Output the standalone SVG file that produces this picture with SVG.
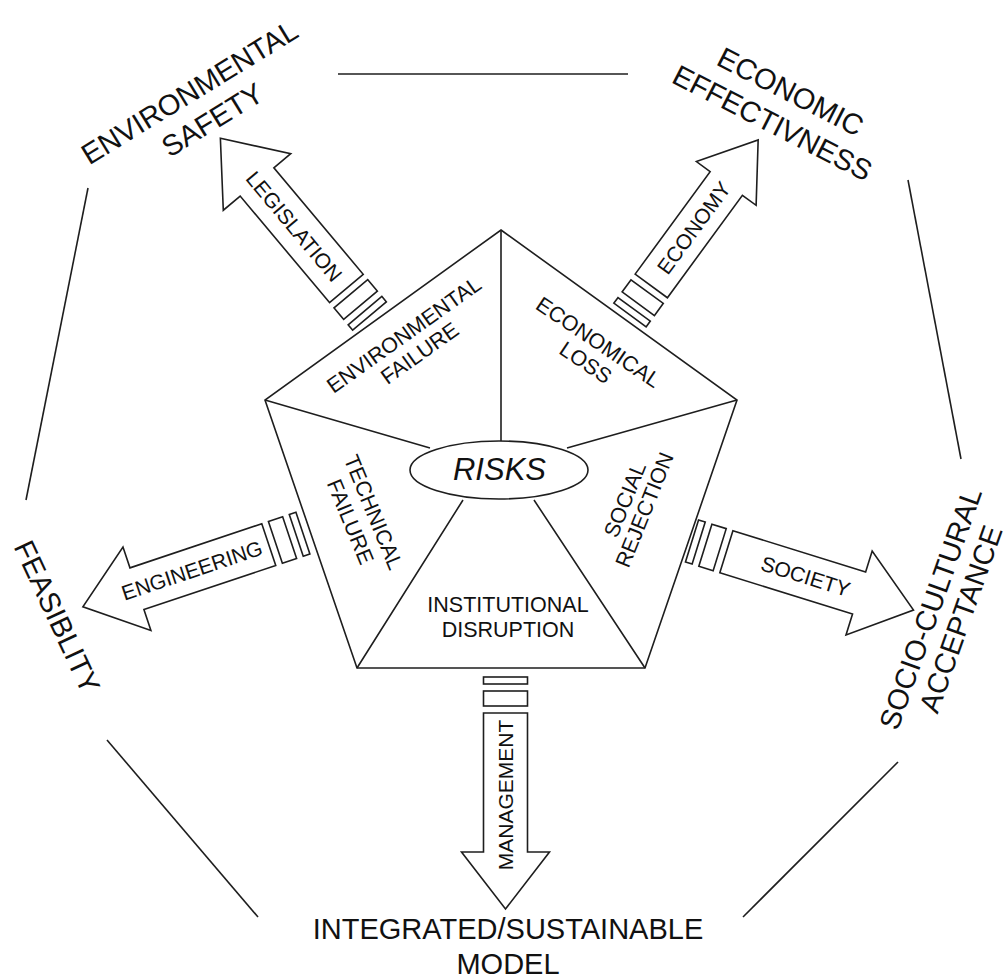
<svg xmlns="http://www.w3.org/2000/svg" width="1007" height="978" viewBox="0 0 1007 978">
<style>
.ln{fill:none;stroke:#1e1e1e;stroke-width:1.6}
.sh{fill:#fff;stroke:#1e1e1e;stroke-width:1.6;stroke-linejoin:miter}
.t{font-family:"Liberation Sans",Arial,sans-serif;fill:#111;text-anchor:middle}
.big{font-size:29px}
.mid{font-size:21.5px}
.lab{font-size:21px}
.risk{font-size:31px;font-style:italic}
</style>
<defs>
<!-- block arrow drawn along +x: two spacer bars, then shaft and head -->
<g id="arrow">
<rect x="0" y="-22" width="7" height="44" class="sh"/>
<rect x="14" y="-22" width="15" height="44" class="sh"/>
<path d="M36,-22 H175 V-44 L232,0 L175,44 V22 H36 Z" class="sh"/>
</g>
<!-- slightly slimmer and shorter variant -->
<g id="arrow-s">
<rect x="0" y="-20" width="7" height="40" class="sh"/>
<rect x="14" y="-20" width="15" height="40" class="sh"/>
<path d="M36,-20 H163 V-37 L217,0 L163,37 V20 H36 Z" class="sh"/>
</g>
</defs>
<rect width="1007" height="978" fill="#fff"/>

<!-- outer frame segments between the five goals -->
<g id="connectors" class="ln">
<path d="M338,74 H628"/>
<path d="M88,188 L26,500"/>
<path d="M107,740 L258,917"/>
<path d="M743,917 L898,762"/>
<path d="M908,180 L961,459"/>
</g>

<!-- central pentagon of risks -->
<g id="risks">
<path class="ln" d="M501,230 L737,400 L645,668 L357,668 L265,400 Z"/>
<path class="ln" d="M501,230 V441 M265,400 L430,448 M737,400 L567,448 M463,500 L357,668 M534,500 L645,668"/>
<ellipse cx="499" cy="470" rx="89" ry="29" class="sh"/>
<text class="t risk" x="499.5" y="480">RISKS</text>
</g>
<g id="env-failure" class="t mid" transform="translate(408.3,340.8) rotate(-35.5)">
<text x="0" y="0">ENVIRONMENTAL</text><text x="2" y="24">FAILURE</text>
</g>
<g id="eco-loss" class="t mid" transform="translate(594.2,348.3) rotate(34)">
<text x="0" y="0">ECONOMICAL</text><text x="1" y="24">LOSS</text>
</g>
<g id="tech-failure" class="t mid" transform="translate(366.7,515) rotate(67.6)">
<text x="0" y="0">TECHNICAL</text><text x="0" y="25">FAILURE</text>
</g>
<g id="soc-rejection" class="t mid" transform="translate(631.7,502.5) rotate(-68)">
<text x="0" y="0">SOCIAL</text><text x="-2" y="22">REJECTION</text>
</g>
<g id="inst-disruption" class="t mid">
<text x="508" y="611.7">INSTITUTIONAL</text><text x="508" y="636.7">DISRUPTION</text>
</g>

<!-- arrows toward the goals -->
<g id="legislation" transform="translate(369.5,316) rotate(230)">
<use href="#arrow"/>
<text class="t lab" transform="translate(117,0) rotate(180)" y="7.5">LEGISLATION</text>
</g>
<g id="economy" transform="translate(630,315) rotate(-53.8)">
<use href="#arrow-s"/>
<text class="t lab" x="108" y="7.5">ECONOMY</text>
</g>
<g id="engineering" transform="translate(302.9,533.2) rotate(161.5)">
<use href="#arrow"/>
<text class="t lab" transform="translate(117,0) rotate(180)" y="7.5">ENGINEERING</text>
</g>
<g id="society" transform="translate(692,541) rotate(17.3)">
<use href="#arrow"/>
<text class="t lab" x="119" y="7.5">SOCIETY</text>
</g>
<g id="management" transform="translate(505.5,677) rotate(90)">
<use href="#arrow"/>
<text class="t lab" transform="translate(118,0) rotate(180)" y="7.5">MANAGEMENT</text>
</g>

<!-- goals around the frame -->
<g id="env-safety" class="t big" transform="translate(194.8,100.8) rotate(-31.5)">
<text x="0" y="0">ENVIRONMENTAL</text><text x="5" y="35.5">SAFETY</text>
</g>
<g id="eco-effectiveness" class="t big" transform="translate(786,100.7) rotate(27.1)">
<text x="0" y="0">ECONOMIC</text><text x="-2" y="36">EFFECTIVNESS</text>
</g>
<g id="feasibility" class="t big" transform="translate(48,621) rotate(65)">
<text x="0" y="0">FEASIBLITY</text>
</g>
<g id="socio-cultural" class="t big" transform="translate(940,611.7) rotate(-70.5)">
<text x="0" y="0">SOCIO-CULTURAL</text><text x="0" y="32">ACCEPTANCE</text>
</g>
<g id="integrated" class="t big">
<text x="508" y="939">INTEGRATED/SUSTAINABLE</text><text x="508" y="974">MODEL</text>
</g>
</svg>
